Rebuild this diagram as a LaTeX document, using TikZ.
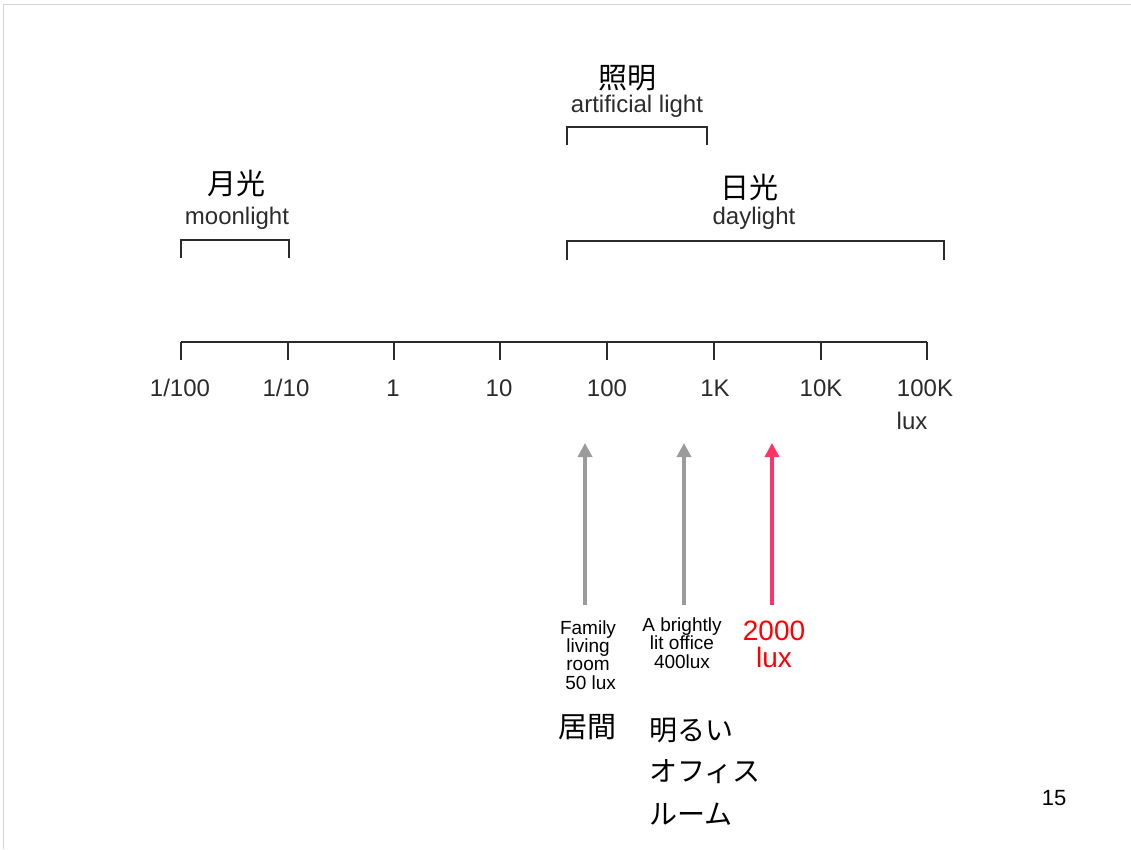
\documentclass[tikz,border=0pt]{standalone}
\usepackage{fontspec}
\setmainfont{Liberation Sans}
\newfontfamily\cjk{Noto Sans CJK JP}
\usetikzlibrary{arrows.meta}
\definecolor{scan}{HTML}{2B2B2B}
\definecolor{arrgray}{HTML}{9B9B9B}
\definecolor{arrpink}{HTML}{FF3366}
\definecolor{edge}{HTML}{D4D4D4}
\begin{document}
\begin{tikzpicture}[x=1pt,y=-1pt,
  every node/.style={inner sep=0pt,outer sep=0pt},
  scale label/.style={font=\fontsize{24}{26}\selectfont,text=scan,anchor=base},
  cat label/.style={font=\fontsize{24}{26}\selectfont,text=scan,anchor=base},
  jp label/.style={font=\cjk\fontsize{29}{32}\selectfont,text=black},
  small label/.style={font=\fontsize{19}{18.3}\selectfont,align=center,anchor=base},
  bracket/.style={draw=scan,line width=1.3pt},
  axisline/.style={draw=scan,line width=1.6pt},
  pointer/.style={line width=4pt,-{Triangle[width=14pt,length=14pt]}},
]
\useasboundingbox (0,0) rectangle (1131,849);
% slide edge
\draw[edge,line width=1.5pt] (3.5,849) -- (3.5,4.5) -- (1131,4.5);

% axis
\foreach \i/\x in {1/181,2/288,3/394,4/500,5/607,6/714,7/821,8/927}{
  \coordinate (t\i) at (\x,342);
  \coordinate (b\i) at (\x,360);
}
\draw[axisline] (t1) -- (t8);
\foreach \i in {1,...,8}{\draw[axisline,line width=1.2pt] (t\i) -- (b\i);}
\node[scale label] (l1) at (180,396) {1/100};
\node[scale label] (l2) at (286,396) {1/10};
\node[scale label] (l3) at (393,396) {1};
\node[scale label] (l4) at (499,396) {10};
\node[scale label] (l5) at (607,396) {100};
\node[scale label] (l6) at (715,396) {1K};
\node[scale label] (l7) at (821,396) {10K};
\node[scale label] (l8) at (925,396) {100K};
\node[scale label] (lux) at (912,429) {lux};

% moonlight
\coordinate (m1) at (181,258); \coordinate (m2) at (181,240);
\coordinate (m3) at (289,240); \coordinate (m4) at (289,258);
\draw[bracket] (m1) -- (m2) -- (m3) -- (m4);
\node[jp label] (moonjp) at (236,183) {月光};
\node[cat label] (moon) at (237,224) {moonlight};

% artificial light
\coordinate (a1) at (567,145); \coordinate (a2) at (567,127);
\coordinate (a3) at (707,127); \coordinate (a4) at (707,145);
\draw[bracket] (a1) -- (a2) -- (a3) -- (a4);
\node[jp label] (artjp) at (627,78) {照明};
\node[cat label] (art) at (637,112) {artificial light};

% daylight
\coordinate (d1) at (567,260); \coordinate (d2) at (567,241);
\coordinate (d3) at (944,241); \coordinate (d4) at (944,260);
\draw[bracket,line width=2.6pt] (d1) -- (d2) -- (d3) -- (d4);
\node[jp label] (dayjp) at (749,187) {日光};
\node[cat label] (day) at (754,224) {daylight};

% pointers
\coordinate (p1s) at (585,605); \coordinate (p1e) at (585,443);
\coordinate (p2s) at (684,605); \coordinate (p2e) at (684,443);
\coordinate (p3s) at (772,605); \coordinate (p3e) at (772,443);
\draw[pointer,arrgray] (p1s) -- (p1e);
\draw[pointer,arrgray] (p2s) -- (p2e);
\draw[pointer,arrpink] (p3s) -- (p3e);

\node[small label] (living) at (588,689) {Family\\living\\room\\\ 50 lux};
\node[small label] (office) at (682,668) {A brightly\\lit office\\400lux};
\node[font=\fontsize{28}{27}\selectfont,text=red,align=center,anchor=base] (lux2000) at (774,667) {2000\\lux};

\node[jp label] (ima) at (587,727) {居間};
\node[jp label,font=\cjk\fontsize{28}{30}\selectfont,anchor=west] (office1) at (649,731) {明るい};
\node[jp label,font=\cjk\fontsize{28}{30}\selectfont,anchor=west] (office2) at (649,772) {オフィス};
\node[jp label,font=\cjk\fontsize{28}{30}\selectfont,anchor=west] (office3) at (649,814) {ルーム};

\node[font=\fontsize{22}{24}\selectfont,anchor=base] (page) at (1054,805) {15};
\end{tikzpicture}
\end{document}
